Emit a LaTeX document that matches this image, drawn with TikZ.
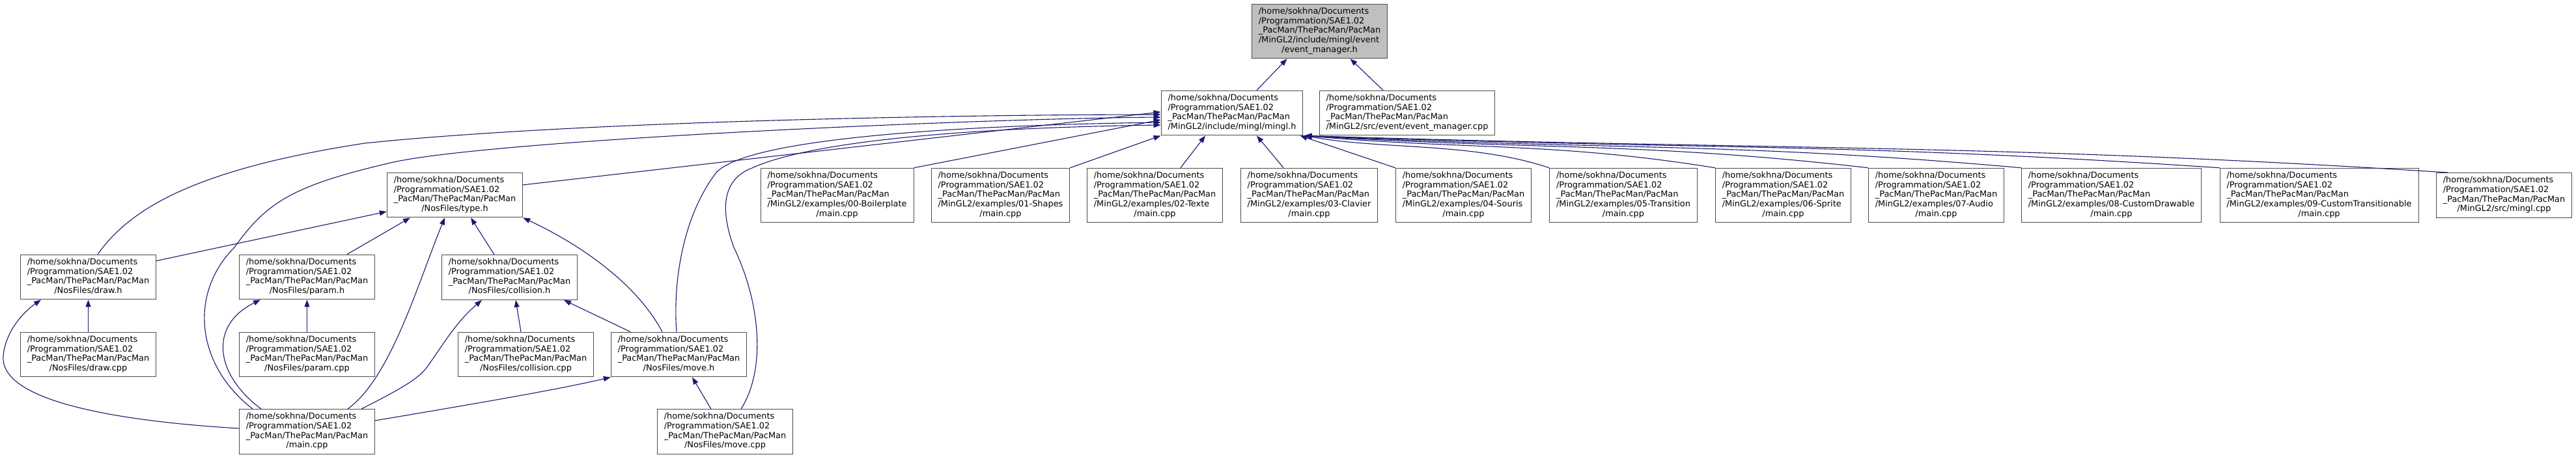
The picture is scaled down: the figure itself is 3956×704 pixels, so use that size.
\documentclass[tikz,border=0pt]{standalone}
\usepackage{fontspec}
\setmainfont{DejaVu Sans}
\usepackage{xcolor}
\usetikzlibrary{arrows.meta}

\definecolor{edgeblue}{RGB}{25,25,112}
\definecolor{rootgray}{RGB}{191,191,191}

% common head of every file path, and a box text: left lines + centred last line
\newcommand{\pacpath}{/home/sokhna/Documents\\/Programmation/SAE1.02\\\_PacMan/ThePacMan/PacMan}
\newcommand{\fname}[2]{\begin{tabular}{@{}l@{}}#1\\\multicolumn{1}{@{}c@{}}{#2}\end{tabular}}

\begin{document}
\begin{tikzpicture}[x=1pt,y=-1pt,
  file/.style={draw=black!70,line width=1pt,fill=white,inner xsep=10.5pt,inner ysep=5pt,
    font=\fontsize{12.9}{14.7}\selectfont},
  edge/.style={draw=edgeblue,line width=1.1pt,-{Triangle[length=11pt,width=8pt]}}]

\fill[white] (0,0) rectangle (3956,704);
\useasboundingbox (0,0) rectangle (3956,704);

% included header and the two files that include it directly
\node[file,fill=rootgray] (root) at (2026.5,48) {\fname{\pacpath\\/MinGL2/include/mingl/event}{/event\_manager.h}};
\node[file] (mingl) at (1892,173.5) {\fname{\pacpath}{/MinGL2/include/mingl/mingl.h}};
\node[file] (evcpp) at (2161,173.5) {\fname{\pacpath}{/MinGL2/src/event/event\_manager.cpp}};

% row of examples
\foreach \k/\cx/\nm in {%
  00/1285.5/00-Boilerplate, 01/1536.5/01-Shapes, 02/1773.5/02-Texte,
  03/2010.5/03-Clavier, 04/2247.5/04-Souris, 05/2493/05-Transition,
  06/2738.5/06-Sprite, 07/2973.5/07-Audio, 08/3242.5/08-CustomDrawable,
  09/3561.5/09-CustomTransitionable}{%
  \node[file] (ex\k) at (\cx,300) {\fname{\pacpath\\/MinGL2/examples/\nm}{/main.cpp}};
}
\node[file] (minglcpp) at (3845.5,300) {\fname{\pacpath}{/MinGL2/src/mingl.cpp}};

% the game's own files
\node[file] (type) at (698.5,299.5) {\fname{\pacpath}{/NosFiles/type.h}};
\node[file] (draw) at (135.5,425.5) {\fname{\pacpath}{/NosFiles/draw.h}};
\node[file] (param) at (471.5,425.5) {\fname{\pacpath}{/NosFiles/param.h}};
\node[file] (collision) at (782.5,426) {\fname{\pacpath}{/NosFiles/collision.h}};
\node[file] (drawcpp) at (135.5,544.5) {\fname{\pacpath}{/NosFiles/draw.cpp}};
\node[file] (paramcpp) at (471.5,544.5) {\fname{\pacpath}{/NosFiles/param.cpp}};
\node[file] (collcpp) at (807.5,544.5) {\fname{\pacpath}{/NosFiles/collision.cpp}};
\node[file] (move) at (1042.5,544.5) {\fname{\pacpath}{/NosFiles/move.h}};
\node[file] (main) at (471.5,663) {\fname{\pacpath}{/main.cpp}};
\node[file] (movecpp) at (1113.5,663) {\fname{\pacpath}{/NosFiles/move.cpp}};

% into event_manager.h
\draw[edge] ([xshift=38]mingl.north) -- ([xshift=-50]root.south);
\draw[edge] ([xshift=-37]evcpp.north) -- ([xshift=47]root.south);

% into mingl.h
\draw[edge] ([yshift=15.5]type.east) -- ([yshift=1.5]mingl.west);
\draw[edge] ([xshift=14.5]draw.north) .. controls (200,320) and (300,260) .. (560,220)
  .. controls (900,185) and (1500,176) .. ([yshift=-2.5]mingl.west);
\draw[edge] ([xshift=-83.5]main.north) .. controls (300,560) and (290,450) .. (360,380)
  .. controls (410,310) and (450,285) .. (600,250)
  .. controls (750,215) and (1500,182) .. ([yshift=-6.5]mingl.west);
\draw[edge] (ex00.north east) -- ([yshift=-10.5]mingl.west);
\draw[edge] ([xshift=-3.5]move.north) .. controls (1033,430) and (1050,330) .. (1100,265)
  .. controls (1150,210) and (1500,192) .. ([yshift=-14.5]mingl.west);
\draw[edge] ([xshift=24.5]movecpp.north) .. controls (1175,570) and (1170,470) .. (1127,380)
  .. controls (1105,320) and (1110,275) .. (1155,258)
  .. controls (1250,215) and (1500,196) .. ([yshift=-18.5]mingl.west);
\draw[edge] (ex01.north east) -- (mingl.south west);
\draw[edge] ([xshift=39.5]ex02.north) -- ([xshift=-41]mingl.south);
\draw[edge] ([xshift=-39.5]ex03.north) -- ([xshift=38]mingl.south);
\draw[edge] (ex04.north west) -- ([xshift=-5]mingl.south east);
\foreach \n/\d in {ex05/120, ex06/250, ex07/350, ex08/450, ex09/600}{%
  \draw[edge] (\n.north west) .. controls +(-\d,-40) and +(\d,22) .. ([xshift=2]mingl.south east);
}
\draw[edge] ([xshift=19]minglcpp.north west) .. controls +(-700,-45) and +(700,22) .. ([xshift=2]mingl.south east);

% into type.h
\draw[edge] ([yshift=-10]draw.north east) -- ([yshift=-25.5]type.west);
\draw[edge] ([xshift=61.5]param.north) -- ([xshift=-68.5]type.south);
\draw[edge] ([xshift=-23.5]collision.north) -- ([xshift=24.5]type.south);
\draw[edge] ([xshift=62.5]main.north) .. controls (600,580) and (640,440) .. ([xshift=-15.5]type.south);
\draw[edge] ([xshift=-25.5]move.north) .. controls (980,440) and (900,380) .. (type.south east);

% into draw.h and param.h
\draw[edge] (drawcpp) -- (draw);
\draw[edge] ([yshift=5]main.west) .. controls (150,645) and (0,610) .. (5,547)
  .. controls (8,510) and (35,480) .. ([xshift=-72.5]draw.south);
\draw[edge] (paramcpp) -- (param);
\draw[edge] ([xshift=-70.5]main.north) .. controls (330,575) and (320,500) .. ([xshift=-71.5]param.south);

% into collision.h and move.h
\draw[edge] ([xshift=-7.5]collcpp.north) -- ([xshift=9.5]collision.south);
\draw[edge] ([xshift=-74.5]move.north) -- ([xshift=83.5]collision.south);
\draw[edge] ([xshift=83.5]main.north) .. controls (600,605) and (640,585) .. (655,565)
  .. controls (680,530) and (700,495) .. ([xshift=-42.5]collision.south);
\draw[edge] ([xshift=-21.5]movecpp.north) -- ([xshift=20.5]move.south);
\draw[edge] ([yshift=17]main.east) .. controls (700,625) and (850,600) .. (move.south west);

\end{tikzpicture}
\end{document}
